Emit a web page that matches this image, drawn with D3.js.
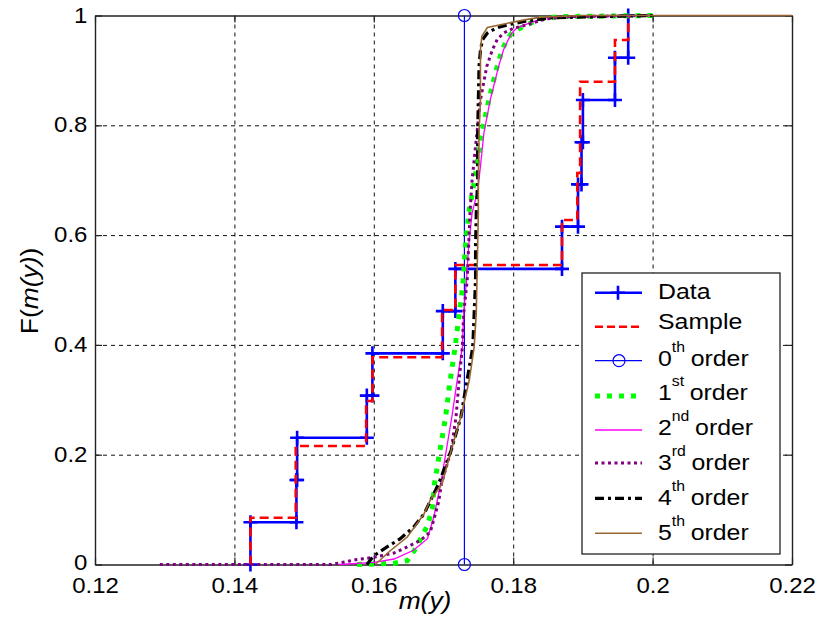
<!DOCTYPE html>
<html><head><meta charset="utf-8">
<script src="https://cdn.jsdelivr.net/npm/d3@7"></script>
<style>
body{margin:0;background:#fff}
text{font-family:"Liberation Sans",Arial,Helvetica,sans-serif;fill:#000}
</style>
</head><body>
<svg id="chart" width="822" height="624"></svg>
<script>
// ---------- data ----------
const xTicks = [0.12, 0.14, 0.16, 0.18, 0.2, 0.22];
const xTickLabels = ["0.12", "0.14", "0.16", "0.18", "0.2", "0.22"];
const yTicks = [0, 0.2, 0.4, 0.6, 0.8, 1];
const yTickLabels = ["0", "0.2", "0.4", "0.6", "0.8", "1"];

// observed data (13 sorted values), empirical CDF
const dataX = [0.1423, 0.1489, 0.1490, 0.1590, 0.1598, 0.1699, 0.1717, 0.1870, 0.1893, 0.1898, 0.1900, 0.1946, 0.1965];
// sample ECDF: jump locations and levels
const sampleX = [0.1423, 0.1488, 0.1589, 0.1598, 0.1698, 0.1717, 0.1870, 0.1892, 0.1896, 0.1946, 0.1965];
const sampleF = [0.0852, 0.2158, 0.2978, 0.3774, 0.4636, 0.5455, 0.6275, 0.7131, 0.8794, 0.9554, 1.0];
// 0th order: point mass
const zerothX = 0.1730;

const order1 = [[0.1576,0],[0.1628,0.002],[0.1648,0.007],[0.1660,0.029],[0.1677,0.071],[0.1684,0.102],[0.1687,0.147],[0.1695,0.208],[0.1703,0.269],[0.1709,0.330],[0.1716,0.390],[0.1722,0.451],[0.1728,0.512],[0.1731,0.573],[0.1736,0.640],[0.1742,0.680],[0.1747,0.720],[0.1755,0.786],[0.1765,0.846],[0.1777,0.907],[0.1784,0.937],[0.1791,0.956],[0.1798,0.968],[0.1810,0.977],[0.1820,0.983],[0.1839,0.994],[0.1867,0.998],[0.2000,1]];
const order2 = [[0.1550,0],[0.1600,0.004],[0.1629,0.010],[0.1657,0.026],[0.1677,0.047],[0.1686,0.086],[0.1696,0.147],[0.1704,0.208],[0.1712,0.269],[0.1719,0.330],[0.1727,0.396],[0.1729,0.457],[0.1733,0.518],[0.1736,0.579],[0.1741,0.640],[0.1749,0.680],[0.1753,0.725],[0.1758,0.786],[0.1767,0.846],[0.1779,0.907],[0.1786,0.937],[0.1793,0.956],[0.1798,0.968],[0.1805,0.977],[0.1821,0.985],[0.1847,0.996],[0.2000,1]];
const order3 = [[0.1293,0],[0.1539,0],[0.1576,0.009],[0.1600,0.013],[0.1629,0.021],[0.1648,0.032],[0.1667,0.044],[0.1681,0.059],[0.1687,0.086],[0.1693,0.114],[0.1697,0.147],[0.1711,0.208],[0.1718,0.269],[0.1722,0.330],[0.1727,0.396],[0.1729,0.457],[0.1734,0.518],[0.1736,0.579],[0.1738,0.640],[0.1741,0.700],[0.1743,0.725],[0.1748,0.786],[0.1753,0.846],[0.1762,0.907],[0.1770,0.937],[0.1777,0.956],[0.1786,0.968],[0.1801,0.977],[0.1820,0.983],[0.1847,0.994],[0.1882,0.998],[0.2000,1]];
const order4 = [[0.1590,0],[0.1600,0.016],[0.1619,0.032],[0.1638,0.047],[0.1657,0.068],[0.1672,0.092],[0.1693,0.147],[0.1711,0.208],[0.1725,0.269],[0.1733,0.330],[0.1742,0.396],[0.1744,0.457],[0.1746,0.518],[0.1746,0.579],[0.1747,0.640],[0.1749,0.700],[0.1749,0.786],[0.1750,0.846],[0.1751,0.907],[0.1753,0.937],[0.1756,0.956],[0.1763,0.968],[0.1775,0.977],[0.1792,0.983],[0.1816,0.989],[0.1854,0.996],[0.2000,1]];
const order5 = [[0.1602,0],[0.1624,0.0255],[0.1648,0.050],[0.1672,0.092],[0.1681,0.117],[0.1698,0.147],[0.1711,0.208],[0.1725,0.269],[0.1737,0.336],[0.1744,0.396],[0.1747,0.457],[0.1748,0.518],[0.1749,0.579],[0.1750,0.640],[0.1750,0.700],[0.1751,0.786],[0.1753,0.846],[0.1753,0.937],[0.1755,0.962],[0.1763,0.978],[0.1792,0.986],[0.1816,0.992],[0.1840,0.997],[0.1900,1],[0.2200,1]];

const legendNames = [["Data",""],["Sample",""],["0","th"],["1","st"],["2","nd"],["3","rd"],["4","th"],["5","th"]];

// ---------- drawing ----------
const svg = d3.select("#chart");
svg.append("rect").attr("width",822).attr("height",624).attr("fill","#fff");

const x = d3.scaleLinear().domain([0.12, 0.22]).range([95, 792]);
const y = d3.scaleLinear().domain([0, 1]).range([564.5, 15.5]);
const [L, R] = x.range(), [B, T] = y.range();

// grid
const grid = svg.append("g");
grid.append("g").attr("transform",`translate(0,${B})`)
  .call(d3.axisBottom(x).tickValues(xTicks.slice(1,-1)).tickSize(-(B-T)).tickFormat(""))
  .call(g=>g.select(".domain").remove())
  .call(g=>g.selectAll("line").attr("stroke","#111").attr("stroke-dasharray","4,4"));
grid.append("g").attr("transform",`translate(${L},0)`)
  .call(d3.axisLeft(y).tickValues(yTicks.slice(1,-1)).tickSize(-(R-L)).tickFormat(""))
  .call(g=>g.select(".domain").remove())
  .call(g=>g.selectAll("line").attr("stroke","#111").attr("stroke-dasharray","4,4"));

// axes
const axB = svg.append("g").attr("transform",`translate(0,${B})`)
  .call(d3.axisBottom(x).tickValues(xTicks).tickSizeInner(-7).tickSizeOuter(0).tickPadding(13)
    .tickFormat((d,i)=>xTickLabels[i]));
const axT = svg.append("g").attr("transform",`translate(0,${T})`)
  .call(d3.axisTop(x).tickValues(xTicks).tickSizeInner(-7).tickSizeOuter(0).tickFormat(""));
const axL = svg.append("g").attr("transform",`translate(${L},0)`)
  .call(d3.axisLeft(y).tickValues(yTicks).tickSizeInner(-7).tickSizeOuter(0).tickPadding(7)
    .tickFormat((d,i)=>yTickLabels[i]));
const axR = svg.append("g").attr("transform",`translate(${R},0)`)
  .call(d3.axisRight(y).tickValues(yTicks).tickSizeInner(-7).tickSizeOuter(0).tickFormat(""));
[axB,axT,axL,axR].forEach(a=>{
  a.select(".domain").attr("stroke","#222").attr("stroke-width",1.4);
  a.selectAll(".tick line").attr("stroke","#222").attr("stroke-width",1.2);
  a.selectAll("text").attr("font-size",22).attr("font-family",null).attr("fill","#000")
    .attr("transform","scale(1.09,1)");
});
axL.selectAll("text").attr("dy","0.3em");
axL.selectAll(".tick").filter(d=>d===0).select("text").attr("dy","0.22em");

const line = d3.line().x(d=>x(d[0])).y(d=>y(d[1]));
const n = dataX.length;

// Data stairs with markers at every corner
const dataPts = [];
dataX.forEach((v,i)=>{ dataPts.push([v, i/n]); dataPts.push([v, (i+1)/n]); });
const plus = "M-7,0H7M0,-7V7";
svg.append("path").attr("d", line(dataPts)).attr("fill","none")
  .attr("stroke","#0000ff").attr("stroke-width",2.6);
svg.append("g").selectAll("path").data(dataPts).join("path")
  .attr("transform",d=>`translate(${x(d[0])},${y(d[1])})`)
  .attr("d",plus).attr("stroke","#0000ff").attr("stroke-width",2.6).attr("fill","none");

// Sample stairs
const samplePts = [[sampleX[0],0]];
sampleX.forEach((v,i)=>{
  if(i>0) samplePts.push([v, sampleF[i-1]]);
  samplePts.push([v, sampleF[i]]);
});
svg.append("path").attr("d", line(samplePts)).attr("fill","none")
  .attr("stroke","#ff0000").attr("stroke-width",2.6).attr("stroke-dasharray","9,5");

// 0th order
const zeroPts = [[zerothX,0],[zerothX,1]];
svg.append("path").attr("d", line(zeroPts)).attr("fill","none").attr("stroke","#0000ff").attr("stroke-width",1.2);
svg.append("g").selectAll("circle").data(zeroPts).join("circle")
  .attr("cx",d=>x(d[0])).attr("cy",d=>y(d[1])).attr("r",6)
  .attr("fill","none").attr("stroke","#0000ff").attr("stroke-width",1.2);

const styles = [
  {data:order1, color:"#00ff00", w:5, dash:"5,7"},
  {data:order2, color:"#ff00ff", w:1.3, dash:null},
  {data:order3, color:"#800080", w:3, dash:"3,3.5"},
  {data:order4, color:"#000000", w:3.2, dash:"9,4,3,4"},
  {data:order5, color:"#996633", w:1.6, dash:null}
];
styles.forEach(s=>{
  svg.append("path").attr("d", line(s.data)).attr("fill","none")
    .attr("stroke",s.color).attr("stroke-width",s.w)
    .attr("stroke-dasharray",s.dash);
});

// ---------- legend ----------
const lg = svg.append("g");
lg.append("rect").attr("x",582).attr("y",273).attr("width",198).attr("height",281)
  .attr("fill","#fff").attr("stroke","#222").attr("stroke-width",1.3);
const lineY = [292.7, 326.7, 360.7, 396, 430, 463, 498.3, 533.3];
const baseY = [299.3, 329.3, 365.7, 400, 435, 470, 505, 540];
const legStyles = [
  {color:"#0000ff", w:2.6, dash:null, marker:"plus"},
  {color:"#ff0000", w:2.6, dash:"8,4"},
  {color:"#0000ff", w:1.2, dash:null, marker:"circle"},
  ...styles.map(s=>({color:s.color, w:s.w, dash:s.dash}))
];
legStyles.forEach((s,i)=>{
  lg.append("line").attr("x1",595).attr("x2",642).attr("y1",lineY[i]).attr("y2",lineY[i])
    .attr("stroke",s.color).attr("stroke-width",s.w).attr("stroke-dasharray",s.dash);
  if(s.marker==="plus")
    lg.append("path").attr("transform",`translate(618,${lineY[i]})`).attr("d",plus)
      .attr("stroke",s.color).attr("stroke-width",2.6);
  if(s.marker==="circle")
    lg.append("circle").attr("cx",619).attr("cy",lineY[i]).attr("r",6)
      .attr("fill","none").attr("stroke",s.color).attr("stroke-width",1.2);
  const t = lg.append("text").attr("transform",`translate(658,${baseY[i]}) scale(1.13,1)`)
    .attr("font-size",22);
  const [main, sup] = legendNames[i];
  t.append("tspan").text(main);
  if(sup){
    t.append("tspan").attr("font-size",14).attr("dy",-14).text(sup);
    t.append("tspan").attr("font-size",22).attr("dy",14).attr("dx",5).text("order");
  }
});

// ---------- axis labels ----------
const xl = svg.append("text").attr("transform","translate(425,609) scale(1.1,1)")
  .attr("text-anchor","middle").attr("font-size",24);
xl.append("tspan").attr("font-style","italic").text("m(y)");

const yl = svg.append("text").attr("transform","translate(38,291) rotate(-90) scale(1.1,1)")
  .attr("text-anchor","middle").attr("font-size",24);
yl.append("tspan").text("F(");
yl.append("tspan").attr("font-style","italic").text("m(y)");
yl.append("tspan").text(")");
</script>
</body></html>
